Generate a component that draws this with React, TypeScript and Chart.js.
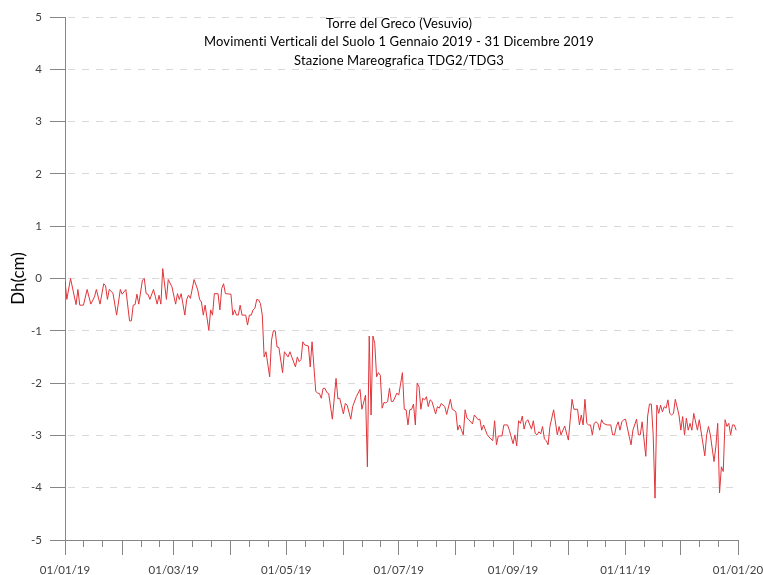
import React, { useEffect, useRef } from "react";
import { Chart, registerables } from "chart.js";

Chart.register(...registerables);

// day of year (0 = 01/01/2019) and vertical displacement Dh (cm)
const days = [
  0, 1, 3, 6, 7, 8, 10, 12, 14, 16, 17, 19, 21, 22, 23, 24, 26, 28, 30, 31, 33, 35, 36, 37, 38, 39, 40, 42, 43, 44,
  45, 46, 48, 49, 50, 51, 52, 53, 55, 56, 58, 60, 61, 62, 63, 65, 66, 67, 68, 70, 72, 73, 74, 75, 76, 78, 79, 80, 81, 83,
  84, 85, 86, 87, 90, 91, 92, 93, 94, 95, 96, 98, 99, 100, 101, 102, 103, 104, 105, 106, 107, 108, 109, 111, 112, 113, 114, 115, 116, 118,
  119, 121, 122, 123, 125, 126, 127, 128, 129, 130, 132, 133, 134, 136, 137, 138, 139, 140, 141, 142, 143, 145, 147, 148, 149, 151, 152, 153, 155, 156,
  158, 160, 161, 163, 164, 165, 166, 167, 168, 169, 170, 171, 172, 173, 174, 175, 176, 177, 178, 180, 181, 183, 184, 185, 186, 187, 188, 189, 190, 191,
  192, 193, 194, 195, 196, 197, 198, 199, 201, 202, 203, 204, 206, 207, 209, 210, 211, 212, 213, 214, 216, 217, 218, 219, 221, 222, 223, 224, 225, 226,
  227, 229, 231, 232, 233, 234, 235, 237, 238, 240, 241, 243, 244, 245, 246, 247, 248, 249, 250, 251, 253, 254, 255, 256, 257, 258, 259, 260, 261, 262,
  263, 265, 267, 268, 269, 271, 273, 275, 276, 278, 279, 280, 281, 282, 283, 284, 285, 286, 287, 288, 289, 290, 291, 292, 294, 296, 297, 298, 299, 300,
  301, 302, 303, 304, 306, 307, 308, 310, 311, 312, 313, 315, 316, 317, 318, 319, 320, 321, 322, 323, 324, 325, 326, 327, 328, 329, 330, 331, 333, 334,
  335, 336, 337, 338, 339, 340, 341, 343, 344, 347, 348, 349, 350, 352, 353, 354, 355, 356, 357, 358, 359, 360, 361, 362, 363, 364,
];

const dh = [
  -0.05, -0.4, 0.0, -0.5, -0.21, -0.51, -0.51, -0.21, -0.49, -0.35, -0.21, -0.49, -0.1, -0.14, -0.4, -0.21, -0.28, -0.7, -0.21, -0.3, -0.21, -0.81, -0.81, -0.51, -0.5, -0.3, -0.49, -0.03, 0.0, -0.29,
  -0.3, -0.4, -0.21, -0.35, -0.49, -0.32, -0.49, 0.19, -0.4, -0.02, -0.16, -0.49, -0.29, -0.4, -0.29, -0.7, -0.4, -0.32, -0.38, -0.02, -0.22, -0.4, -0.45, -0.7, -0.51, -0.99, -0.6, -0.7, -0.29, -0.29,
  -0.6, -0.19, -0.1, -0.29, -0.3, -0.7, -0.6, -0.7, -0.7, -0.51, -0.7, -0.7, -0.89, -0.7, -0.7, -0.6, -0.57, -0.4, -0.41, -0.48, -0.7, -1.5, -1.4, -1.88, -1.18, -1.0, -1.0, -1.31, -1.32, -1.8,
  -1.4, -1.5, -1.4, -1.5, -1.69, -1.5, -1.59, -1.55, -1.21, -1.27, -1.29, -1.69, -1.21, -2.16, -2.19, -2.2, -2.29, -2.1, -2.1, -2.18, -2.2, -2.69, -1.91, -2.3, -2.29, -2.59, -2.39, -2.42, -2.69, -2.45,
  -2.26, -2.12, -2.5, -2.23, -3.6, -1.1, -2.61, -1.1, -1.24, -1.88, -1.8, -1.85, -2.48, -2.37, -2.38, -2.35, -2.1, -2.35, -2.35, -2.19, -2.23, -1.8, -2.5, -2.51, -2.8, -2.51, -2.5, -2.4, -2.8, -2.0,
  -2.07, -2.5, -2.29, -2.32, -2.26, -2.45, -2.32, -2.35, -2.59, -2.45, -2.48, -2.39, -2.45, -2.6, -2.31, -2.5, -2.52, -2.55, -2.9, -2.8, -2.99, -2.51, -2.67, -2.7, -2.78, -2.61, -2.65, -2.7, -2.69, -2.9,
  -2.8, -2.99, -3.07, -3.1, -2.72, -3.18, -3.01, -3.01, -2.8, -2.8, -2.9, -3.16, -2.99, -3.2, -2.72, -2.77, -2.63, -2.88, -2.74, -2.7, -2.88, -2.72, -2.96, -2.99, -2.93, -2.97, -2.83, -3.07, -3.1, -3.18,
  -2.83, -2.51, -2.99, -2.83, -2.99, -2.82, -3.09, -2.31, -2.5, -2.5, -2.8, -2.61, -2.8, -2.31, -2.77, -2.8, -2.8, -2.99, -2.77, -2.74, -2.77, -2.9, -2.7, -2.77, -2.8, -2.8, -2.99, -2.99, -2.83, -2.74,
  -2.9, -2.74, -2.7, -2.69, -3.02, -3.18, -2.9, -2.69, -2.99, -2.99, -2.74, -3.4, -2.63, -2.4, -2.4, -2.99, -4.2, -2.42, -2.58, -2.42, -2.55, -2.45, -2.48, -2.32, -2.58, -2.61, -2.58, -2.31, -2.61, -2.9,
  -2.64, -2.99, -2.67, -2.9, -2.77, -2.9, -2.58, -2.9, -2.7, -3.39, -2.99, -2.83, -2.99, -3.5, -3.21, -2.77, -4.1, -3.6, -3.69, -2.7, -2.83, -2.77, -2.99, -2.8, -2.8, -2.9,
];

// first day of each month (day of year), 01/01/2019 ... 01/01/2020
const monthStarts = [0, 31, 59, 90, 120, 151, 181, 212, 243, 273, 304, 334, 365];
const xTickLabels = ["01/01/19", "01/03/19", "01/05/19", "01/07/19", "01/09/19", "01/11/19", "01/01/20"];
const yTicks = [-5, -4, -3, -2, -1, 0, 1, 2, 3, 4, 5];
const titleLines = [
  "Torre del Greco (Vesuvio)",
  "Movimenti Verticali del Suolo 1 Gennaio 2019 - 31 Dicembre 2019",
  "Stazione Mareografica TDG2/TDG3",
];
const yTitle = "Dh(cm)";

const FONT = "Lato, 'Open Sans', sans-serif";
const AXIS_GREY = "#868686";

export default function App() {
  const canvasRef = useRef<HTMLCanvasElement | null>(null);

  useEffect(() => {
    document.body.style.margin = "0";
    const canvas = canvasRef.current;
    if (!canvas) return;

    const minorDays: number[] = [];
    monthStarts.slice(0, 12).forEach((d) => {
      minorDays.push(d + 10, d + 20);
    });

    const extras = {
      id: "extras",
      afterDraw(chart: any) {
        const { ctx } = chart;
        const xs = chart.scales.x;
        ctx.save();
        // minor ticks on 11th and 21st of each month
        ctx.strokeStyle = AXIS_GREY;
        ctx.lineWidth = 1;
        ctx.beginPath();
        minorDays.forEach((d) => {
          const px = Math.round(xs.getPixelForValue(d)) + 0.5;
          ctx.moveTo(px, xs.top);
          ctx.lineTo(px, xs.top + 7);
        });
        ctx.stroke();
        // titles inside plot area
        ctx.fillStyle = "#000000";
        ctx.font = `13px ${FONT}`;
        try {
          (ctx as any).letterSpacing = "0.15px";
        } catch (e) {}
        ctx.textAlign = "center";
        ctx.textBaseline = "middle";
        titleLines.forEach((t, i) => ctx.fillText(t, 399, 23.5 + i * 18.5));
        ctx.restore();
      },
    };

    const chart = new Chart(canvas, {
      type: "line",
      data: {
        datasets: [
          {
            data: dh.map((v, i) => ({ x: days[i], y: v })),
            borderColor: "#e0353b",
            borderWidth: 1,
            pointRadius: 0,
            tension: 0,
            fill: false,
          },
        ],
      },
      options: {
        animation: false,
        responsive: false,
        maintainAspectRatio: false,
        layout: { padding: { left: 0, top: 17, right: 25, bottom: 0 } },
        plugins: { legend: { display: false }, tooltip: { enabled: false }, title: { display: false } },
        scales: {
          x: {
            type: "linear",
            min: 0,
            max: 365,
            afterBuildTicks: (scale: any) => {
              scale.ticks = monthStarts.map((v) => ({ value: v }));
            },
            afterFit: (scale: any) => {
              scale.height = 35;
              scale.paddingLeft = 0;
              scale.paddingRight = 0;
            },
            ticks: {
              autoSkip: false,
              maxRotation: 0,
              minRotation: 0,
              padding: 8,
              color: "#404040",
              font: { family: FONT, size: 11.5 },
              callback: (_v: any, index: number) => (index % 2 === 0 ? xTickLabels[index / 2] : ""),
            },
            grid: {
              drawOnChartArea: false,
              drawTicks: true,
              tickLength: 15,
              tickColor: AXIS_GREY,
              tickWidth: 1,
            },
            border: { display: true, color: AXIS_GREY, width: 1 },
          },
          y: {
            type: "linear",
            min: -5,
            max: 5,
            afterBuildTicks: (scale: any) => {
              scale.ticks = yTicks.map((v) => ({ value: v }));
            },
            afterFit: (scale: any) => {
              scale.width = 65;
              scale.paddingTop = 0;
              scale.paddingBottom = 0;
            },
            ticks: {
              padding: 8,
              color: "#404040",
              font: { family: FONT, size: 11.5 },
              callback: (v: any) => String(v),
            },
            grid: {
              color: "#d9d9d9",
              lineWidth: 1,
              drawTicks: true,
              tickLength: 15,
              tickColor: AXIS_GREY,
              tickWidth: 1,
              tickBorderDash: [],
            },
            border: { display: true, color: AXIS_GREY, width: 1, dash: [7, 7], dashOffset: 12 },
            title: {
              display: true,
              text: yTitle,
              color: "#000000",
              font: { family: FONT, size: 17 },
              padding: { top: 8, bottom: 0 },
            },
          },
        },
      },
      plugins: [extras],
    });

    return () => chart.destroy();
  }, []);

  return (
    <div style={{ width: 763, height: 575 }}>
      <canvas ref={canvasRef} width={763} height={575} style={{ display: "block" }} />
    </div>
  );
}
